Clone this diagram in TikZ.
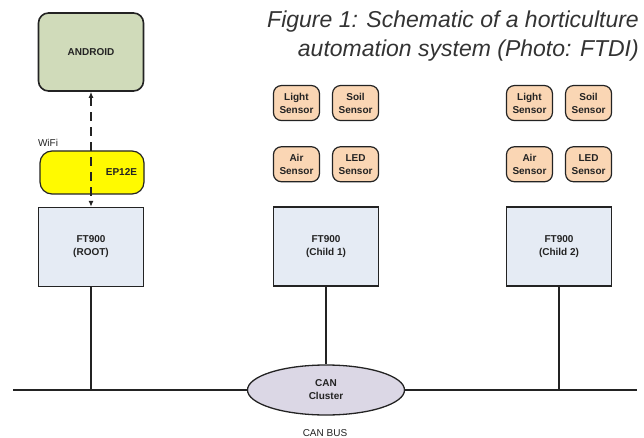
\documentclass[tikz,border=0pt]{standalone}
\usepackage{fontspec}
\setmainfont{Liberation Sans}
\usetikzlibrary{arrows.meta, shapes.geometric, positioning}

\definecolor{androidfill}{RGB}{208,219,186}
\definecolor{wififill}{RGB}{255,250,0}
\definecolor{mcufill}{RGB}{229,235,244}
\definecolor{sensorfill}{RGB}{250,214,180}
\definecolor{canfill}{RGB}{219,215,229}
\definecolor{edge}{RGB}{35,35,35}

\begin{document}
\begin{tikzpicture}[x=1pt, y=-1pt,
    every node/.style={text=edge},
    boxtxt/.style={font=\bfseries\fontsize{10}{13}\selectfont, align=center, inner sep=0pt},
    mcu/.style={boxtxt, draw=edge, line width=1.3pt, fill=mcufill, minimum width=105pt, minimum height=79pt},
    sensor/.style={boxtxt, draw=edge, line width=1.2pt, rounded corners=8pt, fill=sensorfill, minimum width=46pt, minimum height=35pt},
    wire/.style={draw=edge, line width=1.4pt}]
    % Frame
    \useasboundingbox (0,0) rectangle (644,438);

    % Caption
    \node[anchor=north east, align=right, inner sep=0pt, text=black!80,
          font=\itshape\fontsize{23}{29}\selectfont] (caption) at (639,11)
          {Figure 1: Schematic of a horticulture\\automation system (Photo: FTDI)};

    % Root side
    \node[boxtxt, draw=edge, line width=1.6pt, rounded corners=10pt, fill=androidfill,
          minimum width=105pt, minimum height=78pt] (android) at (91,52) {ANDROID};
    \node[boxtxt, draw=edge, line width=1.2pt, rounded corners=12pt, fill=wififill,
          text width=90pt, align=right, inner xsep=7pt, minimum height=43pt] (ep12e) at (92,172.5) {EP12E};
    \node[font=\fontsize{10}{11}\selectfont, inner sep=0pt] (wifi) at (48,143) {WiFi};
    \node[mcu] (root) at (91,247) {FT900\\(ROOT)};
    \draw[wire, dash pattern=on 9pt off 6pt, {Latex[length=6pt,width=5pt]}-{Latex[length=6pt,width=5pt]}]
          (android.south) -- (root.north);

    % Children and their sensors
    \node[mcu] (child1) at (326,246.5) {FT900\\(Child 1)};
    \node[mcu] (child2) at (559,246.5) {FT900\\(Child 2)};
    \foreach \c in {child1, child2} {
        \node[sensor, anchor=south west] (\c-air) at ([yshift=24pt]\c.north west) {Air\\Sensor};
        \node[sensor, anchor=south east] (\c-led) at ([yshift=24pt]\c.north east) {LED\\Sensor};
        \node[sensor, above=25pt of \c-air] (\c-light) {Light\\Sensor};
        \node[sensor, above=25pt of \c-led] (\c-soil) {Soil\\Sensor};
    }

    % CAN bus
    \coordinate (busL) at (13,390);
    \coordinate (busR) at (637,390);
    \node[boxtxt, ellipse, draw=edge, line width=1.3pt, fill=canfill,
          minimum width=157pt, minimum height=50pt] (can) at (326,390) {CAN\\Cluster};
    \node[font=\fontsize{10}{11}\selectfont, inner sep=0pt] (busname) at (325,433) {CAN BUS};
    \draw[wire] (busL) -- (can.west);
    \draw[wire] (can.east) -- (busR);
    \draw[wire] (root.south) -- (root.south |- busL);
    \draw[wire] (child1.south) -- (can.north);
    \draw[wire] (child2.south) -- (child2.south |- busR);
\end{tikzpicture}
\end{document}
